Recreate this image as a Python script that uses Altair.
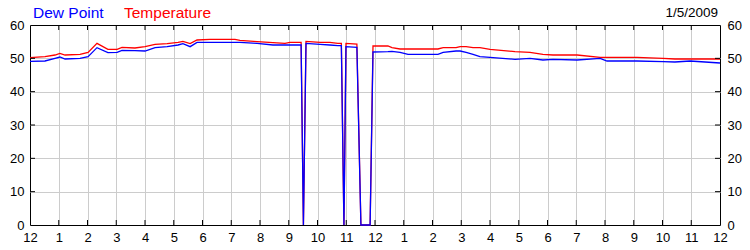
import altair as alt
import pandas as pd

# ---- data (hours since midnight) ----
hours = [0.00, 0.52, 0.87, 1.04, 1.22, 1.74, 2.02, 2.33, 2.71, 3.03, 3.20, 3.65, 4.00,
         4.35, 4.77, 5.15, 5.32, 5.57, 5.81, 6.26, 7.13, 7.30, 7.90, 8.45, 8.87, 9.04,
         9.43, 9.51, 9.60, 10.09, 10.43, 10.71, 10.83, 10.92, 10.99, 11.37, 11.51, 11.83,
         11.93, 12.45, 12.59, 12.87, 13.15, 14.19, 14.37, 14.82, 14.96, 15.17, 15.41,
         15.65, 16.00, 16.87, 17.39, 17.84, 18.19, 19.03, 19.83, 20.07, 21.11, 22.02,
         22.43, 22.96, 24.00]
temperature = [50.2, 50.5, 51.0, 51.5, 51.0, 51.2, 51.8, 54.5, 52.7, 52.7, 53.3, 53.1, 53.5,
               54.2, 54.4, 54.8, 55.1, 54.4, 55.5, 55.7, 55.7, 55.4, 55.0, 54.7, 54.5, 54.8,
               54.8, 0.0, 55.1, 54.8, 54.8, 54.5, 54.5, 0.0, 54.5, 54.3, 0.0, 0.0,
               53.7, 53.7, 53.2, 52.8, 52.8, 52.8, 53.2, 53.2, 53.5, 53.5, 53.2,
               53.2, 52.7, 52.0, 51.8, 51.2, 51.0, 51.0, 50.3, 50.3, 50.3, 50.0,
               49.8, 49.8, 49.8]
dew_point = [49.1, 49.2, 50.0, 50.4, 49.8, 50.0, 50.5, 53.2, 51.7, 51.8, 52.4, 52.3, 52.2,
             53.2, 53.5, 54.0, 54.4, 53.5, 54.8, 54.8, 54.8, 54.8, 54.5, 54.0, 54.0, 54.0,
             54.0, 0.0, 54.5, 54.2, 54.0, 53.8, 53.8, 0.0, 53.5, 53.3, 0.0, 0.0,
             51.9, 52.0, 52.1, 51.8, 51.2, 51.2, 51.8, 52.2, 52.2, 51.8, 51.2,
             50.5, 50.3, 49.7, 50.0, 49.5, 49.7, 49.5, 50.0, 49.2, 49.2, 49.0,
             48.9, 49.2, 48.6]

axis_hours = list(range(0, 25))
inner_hours = list(range(1, 24))
axis_values = [0, 10, 20, 30, 40, 50, 60]
inner_values = [10, 20, 30, 40, 50]
series_names = ["Dew Point", "Temperature"]
date_label = "1/5/2009"

df = pd.DataFrame({"h": hours, "temp": temperature, "dew": dew_point})
xticks_df = pd.DataFrame({"h": inner_hours})
yticks_df = pd.DataFrame({"v": inner_values})

FONT = "Liberation Sans"
xs = alt.Scale(domain=[0, 24], nice=False, zero=False)
ys = alt.Scale(domain=[0, 60], nice=False)

grid_color_x = {"condition": {"test": "datum.value == 0 || datum.value == 24", "value": "#000000"},
                "value": "#cccccc"}
grid_color_y = {"condition": {"test": "datum.value == 0 || datum.value == 60", "value": "#000000"},
                "value": "#cccccc"}

x_axis = alt.Axis(values=axis_hours, title=None, grid=True, gridColor=grid_color_x, gridWidth=1,
                  ticks=False, domain=False, labelFlush=False, labelOverlap=False,
                  labelExpr="datum.value % 12 == 0 ? '12' : '' + (datum.value % 12)",
                  labelPadding=6, labelFont=FONT, labelFontSize=13, labelColor="#000000")
y_axis_left = alt.Axis(values=axis_values, title=None, grid=True, gridColor=grid_color_y, gridWidth=1,
                       ticks=False, domain=False, labelFlush=False, labelOverlap=False,
                       labelPadding=6, labelFont=FONT, labelFontSize=13, labelColor="#000000")
y_axis_right = alt.Axis(values=axis_values, title=None, grid=False, orient="right",
                        ticks=False, domain=False, labelFlush=False, labelOverlap=False,
                        labelPadding=7, labelFont=FONT, labelFontSize=13, labelColor="#000000")

X = alt.X("h:Q", scale=xs, axis=x_axis)

base = alt.Chart(df)

temp_line = base.mark_line(color="#ff0000", strokeWidth=1.3).encode(
    x=X,
    y=alt.Y("temp:Q", scale=ys, axis=y_axis_left),
)
dew_line = base.mark_line(color="#0000ff", strokeWidth=1.3).encode(
    x=X,
    y=alt.Y("dew:Q", scale=ys, axis=None),
)

tick_bottom = alt.Chart(xticks_df).mark_rule(color="#000000", strokeWidth=1).encode(
    x=X, y=alt.value(200), y2=alt.value(195))
tick_top = alt.Chart(xticks_df).mark_rule(color="#000000", strokeWidth=1).encode(
    x=X, y=alt.value(0), y2=alt.value(5))
tick_left = alt.Chart(yticks_df).mark_rule(color="#000000", strokeWidth=1).encode(
    y=alt.Y("v:Q", scale=ys, axis=None), x=alt.value(0), x2=alt.value(5))
tick_right = alt.Chart(yticks_df).mark_rule(color="#000000", strokeWidth=1).encode(
    y=alt.Y("v:Q", scale=ys, axis=y_axis_right), x=alt.value(690), x2=alt.value(685))

title_dew = alt.Chart(pd.DataFrame({"t": [series_names[0]]})).mark_text(
    font=FONT, fontSize=15.5, color="#0000ff", align="left", baseline="alphabetic").encode(
    text="t:N", x=alt.value(3), y=alt.value(-7.5))
title_temp = alt.Chart(pd.DataFrame({"t": [series_names[1]]})).mark_text(
    font=FONT, fontSize=15.5, color="#ff0000", align="left", baseline="alphabetic").encode(
    text="t:N", x=alt.value(94), y=alt.value(-7.5))
title_date = alt.Chart(pd.DataFrame({"t": [date_label]})).mark_text(
    font=FONT, fontSize=13.5, color="#000000", align="right", baseline="alphabetic").encode(
    text="t:N", x=alt.value(688), y=alt.value(-8.3))

chart = alt.layer(
    temp_line, dew_line, tick_bottom, tick_top, tick_left, tick_right,
    title_dew, title_temp, title_date,
).resolve_axis(y="independent").properties(
    width=690, height=200,
    autosize=alt.AutoSizeParams(type="none"),
    padding={"left": 30, "top": 25, "right": 30, "bottom": 25},
    background="#ffffff",
).configure_view(stroke=None)

chart.save("out.html", embed_options={"renderer": "svg", "actions": False})
